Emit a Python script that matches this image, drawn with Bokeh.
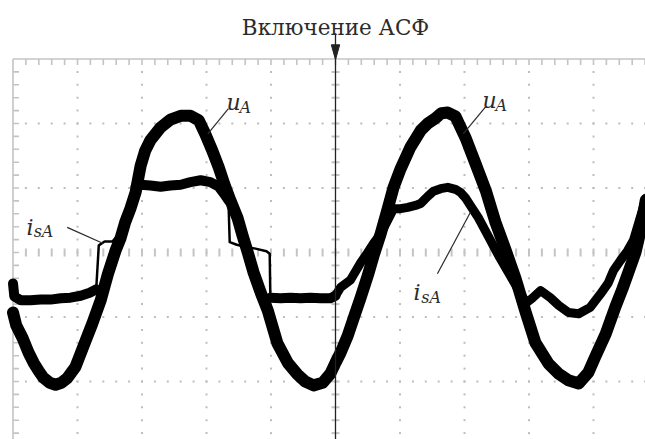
import numpy as np
from bokeh.plotting import figure
from bokeh.models import Range1d
from bokeh.core.properties import value
from bokeh.embed import file_html
from bokeh.resources import INLINE

# ---- data (oscilloscope divisions; 0,0 = screen centre) ----
ua_x = [-5.0, -4.95, -4.85, -4.76, -4.68, -4.60, -4.53, -4.43, -4.34, -4.25,
        -4.16, -4.03, -3.91, -3.77, -3.64, -3.53, -3.41, -3.33, -3.26, -3.18,
        -3.10, -3.02, -2.95, -2.87, -2.71, -2.56, -2.40, -2.25, -2.12, -2.02,
        -1.91, -1.81, -1.72, -1.63, -1.52, -1.44, -1.36, -1.27, -1.16, -1.05,
        -0.90, -0.74, -0.59, -0.47, -0.34, -0.20, -0.08, 0.0, 0.08, 0.19,
        0.28, 0.39, 0.50, 0.59, 0.70, 0.81, 0.90, 1.01, 1.16, 1.32,
        1.43, 1.55, 1.64, 1.74, 1.86, 2.02, 2.17, 2.33, 2.48, 2.64,
        2.79, 2.95, 3.10, 3.30, 3.46, 3.61, 3.77, 3.92, 4.03, 4.19,
        4.34, 4.45, 4.54, 4.65, 4.73, 4.81]
ua_y = [-0.93, -1.13, -1.33, -1.55, -1.71, -1.84, -1.94, -2.02, -2.05, -2.02,
        -1.95, -1.77, -1.46, -1.10, -0.74, -0.34, 0.03, 0.23, 0.47, 0.68,
        0.93, 1.35, 1.58, 1.74, 1.94, 2.06, 2.12, 2.12, 2.05, 1.84,
        1.58, 1.32, 1.05, 0.81, 0.54, 0.26, 0.0, -0.31, -0.62, -0.90,
        -1.41, -1.71, -1.89, -2.00, -2.06, -2.02, -1.88, -1.71, -1.55, -1.29,
        -1.02, -0.70, -0.36, -0.05, 0.29, 0.68, 1.01, 1.30, 1.63, 1.89,
        2.00, 2.08, 2.16, 2.17, 2.11, 1.77, 1.38, 0.96, 0.47, 0.03,
        -0.40, -0.93, -1.40, -1.72, -1.88, -1.98, -2.03, -1.86, -1.61, -1.26,
        -0.84, -0.56, -0.31, 0.0, 0.34, 0.81]

isa_x = [-5.0, -4.98, -4.88, -4.73, -4.57, -4.42, -4.26, -4.11, -3.95, -3.80,
         -3.71, -3.67, -3.58, -3.46, -3.36, -3.27, -3.18, -3.10, -3.02, -2.87,
         -2.71, -2.56, -2.40, -2.25, -2.09, -1.94, -1.81, -1.72, -1.66, -1.64,
         -1.53, -1.40, -1.24, -1.07, -1.02, -1.01, -0.85, -0.70, -0.54, -0.39,
         -0.23, -0.08, 0.0, 0.08, 0.23, 0.39, 0.50, 0.59, 0.70, 0.81,
         0.90, 1.01, 1.12, 1.24, 1.32, 1.43, 1.52, 1.63, 1.74, 1.86,
         1.94, 2.02, 2.09, 2.22, 2.37, 2.53, 2.71, 2.87, 2.96, 3.05,
         3.18, 3.33, 3.46, 3.61, 3.77, 3.95, 4.11, 4.23, 4.31, 4.42,
         4.53, 4.62, 4.68, 4.78, 4.81]
isa_y = [-0.48, -0.68, -0.74, -0.74, -0.73, -0.73, -0.71, -0.70, -0.67, -0.62,
         -0.57, 0.11, 0.17, 0.17, 0.28, 0.53, 0.81, 1.02, 1.05, 1.04,
         1.02, 1.04, 1.05, 1.09, 1.12, 1.09, 1.02, 0.90, 0.81, 0.16,
         0.12, 0.09, 0.06, 0.02, -0.02, -0.70, -0.71, -0.70, -0.71, -0.70,
         -0.71, -0.71, -0.67, -0.54, -0.43, -0.16, 0.0, 0.14, 0.29, 0.50,
         0.68, 0.68, 0.70, 0.73, 0.76, 0.87, 0.95, 0.99, 1.01, 0.98,
         0.93, 0.84, 0.73, 0.53, 0.25, -0.05, -0.36, -0.64, -0.78, -0.71,
         -0.59, -0.70, -0.82, -0.93, -0.95, -0.85, -0.64, -0.47, -0.28, -0.12,
         0.03, 0.19, 0.39, 0.73, 0.84]

title_text = "Включение АСФ"

SERIF = value("DejaVu Serif")
GRID = "#c4c4c4"
INK = "#2b2b2b"

X0, X1 = -5.1938, 4.8062
Y0, Y1 = -2.8992, 3.9070
p = figure(width=645, height=439, x_range=Range1d(X0, X1), y_range=Range1d(Y0, Y1),
           output_backend="svg", toolbar_location=None, min_border=0,
           x_axis_location=None, y_axis_location=None)
p.grid.visible = False
p.outline_line_color = None
p.background_fill_color = "white"
p.border_fill_color = "white"

LEFT, TOP = -5.0, 3.0
px = 1 / 64.5

# dotted graticule
minor_x = np.round(np.arange(-4.8, 4.81, 0.2), 3)
minor_y = np.round(np.arange(-2.8, 2.81, 0.2), 3)
dx, dy = [], []
for gx in [-4, -3, -2, -1, 1, 2, 3, 4]:
    for yy in minor_y:
        dx.append(gx); dy.append(yy)
for gy in [-2, -1, 1, 2]:
    for xx in minor_x:
        dx.append(xx); dy.append(gy)
p.scatter(dx, dy, marker="square", size=2, color="#bdbdbd", line_color=None)

# centre-line ticks
p.segment(x0=minor_x, y0=-4 * px, x1=minor_x, y1=4 * px, line_color=GRID, line_width=2)
p.segment(x0=-4 * px, y0=minor_y, x1=4 * px, y1=minor_y, line_color=GRID, line_width=2)

# border (top & left) with inner ticks
p.segment(x0=[LEFT, LEFT], y0=[TOP, TOP], x1=[X1, LEFT], y1=[TOP, Y0], line_color=GRID, line_width=1.6)
p.segment(x0=minor_x, y0=TOP, x1=minor_x, y1=TOP - 6 * px, line_color=GRID, line_width=1.6)
p.segment(x0=LEFT, y0=minor_y, x1=LEFT + 6 * px, y1=minor_y, line_color=GRID, line_width=1.6)

# traces
p.line(ua_x, ua_y, line_color="black", line_width=12, line_join="round", line_cap="round")
# i_sA: noisy plateaus drawn heavy, the commutation steps thin
heavy = [(0, 11), (17, 29), (35, 43), (42, 85)]
heavy_w = [10, 10, 10, 9]
thin = [(10, 18), (28, 36)]
for a, b in thin:
    p.line(isa_x[a:b], isa_y[a:b], line_color="black", line_width=2.5, line_join="round")
for (a, b), w in zip(heavy, heavy_w):
    p.line(isa_x[a:b], isa_y[a:b], line_color="black", line_width=w, line_join="round", line_cap="round")

# marker of filter switch-on
p.segment(x0=[0], y0=[3.40], x1=[0], y1=[Y0], line_color="#222222", line_width=1.3)
p.patch([0, -0.065, 0.065], [2.99, 3.22, 3.22], color="#222222")
p.text(x=[0], y=[3.49], text=[title_text], text_font=SERIF, text_font_size="21.5px",
       text_align="center", text_baseline="alphabetic", text_color=INK)

# labels
p.text(x=[-1.69, 2.28], y=[2.33, 2.36], text=["u", "u"], text_font=SERIF, text_font_style="italic",
       text_font_size="22px", text_baseline="alphabetic", text_color=INK)
p.text(x=[-1.49, 2.48], y=[2.25, 2.28], text=["A", "A"], text_font=SERIF, text_font_style="italic",
       text_font_size="16px", text_baseline="alphabetic", text_color=INK)
p.text(x=[-4.79, 1.21], y=[0.39, -0.62], text=["i", "i"], text_font=SERIF, text_font_style="italic",
       text_font_size="22px", text_baseline="alphabetic", text_color=INK)
p.text(x=[-4.68, 1.33], y=[0.33, -0.70], text=["sA", "sA"], text_font=SERIF, text_font_style="italic",
       text_font_size="16px", text_baseline="alphabetic", text_color=INK)
p.segment(x0=[-1.66, 2.33, -4.16, 2.09], y0=[2.23, 2.26, 0.39, 0.62],
          x1=[-1.98, 1.98, -3.60, 1.58], y1=[1.84, 1.84, 0.14, -0.33],
          line_color=INK, line_width=1.2)

open("out.html", "w").write(file_html(p, INLINE))
